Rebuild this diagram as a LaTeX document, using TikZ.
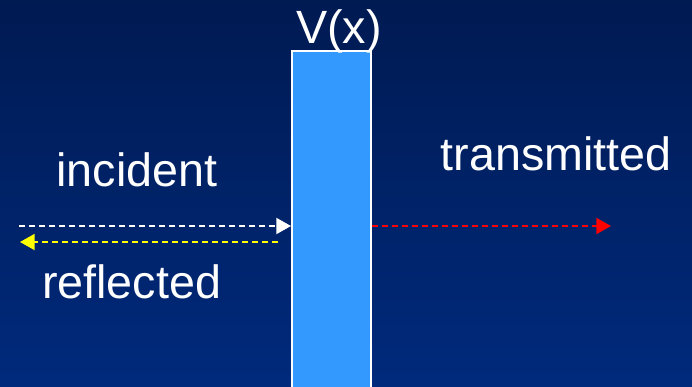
\documentclass[tikz,border=0pt]{standalone}
\usepackage{fontspec}
\setmainfont{Liberation Sans}
\usetikzlibrary{arrows.meta}
\definecolor{bgtop}{RGB}{0,26,82}
\definecolor{bgbottom}{RGB}{0,42,124}
\definecolor{barrier}{RGB}{51,153,255}
\definecolor{wavered}{RGB}{255,0,0}
\definecolor{waveyellow}{RGB}{255,255,0}
\tikzset{
  label text/.style={text=white, font=\fontsize{35}{42}\selectfont, inner sep=0pt, anchor=base},
  wave/.style={line width=1.4pt, dash pattern=on 4.5pt off 3pt,
    -{Triangle[length=11pt,width=12pt]}},
}
\begin{document}
\begin{tikzpicture}[x=0.75pt,y=-0.75pt]
  % background
  \shade[top color=bgtop, bottom color=bgbottom] (0,0) rectangle (692,386);
  \useasboundingbox (0,0) rectangle (692,386);
  % potential barrier
  \draw[white, line width=1.6pt, fill=barrier] (292,51) rectangle (371,392);
  \coordinate (barL) at (291,226);
  \coordinate (barR) at (372,226);
  % labels
  \node[label text] (vx) at (339,43) {V(x)};
  \node[label text] (inc) at (137,186) {incident};
  \node[label text] (refl) at (131.5,298) {reflected};
  \node[label text] (trans) at (556,170) {transmitted};
  % waves
  \coordinate (incStart) at (19,226);
  \coordinate (reflStart) at (278,242);
  \coordinate (reflEnd) at (20,242);
  \coordinate (transEnd) at (611,226);
  \draw[wave, white] (incStart) -- (barL);
  \draw[wave, waveyellow] (reflStart) -- (reflEnd);
  \draw[wave, wavered] (barR) -- (transEnd);
\end{tikzpicture}
\end{document}
